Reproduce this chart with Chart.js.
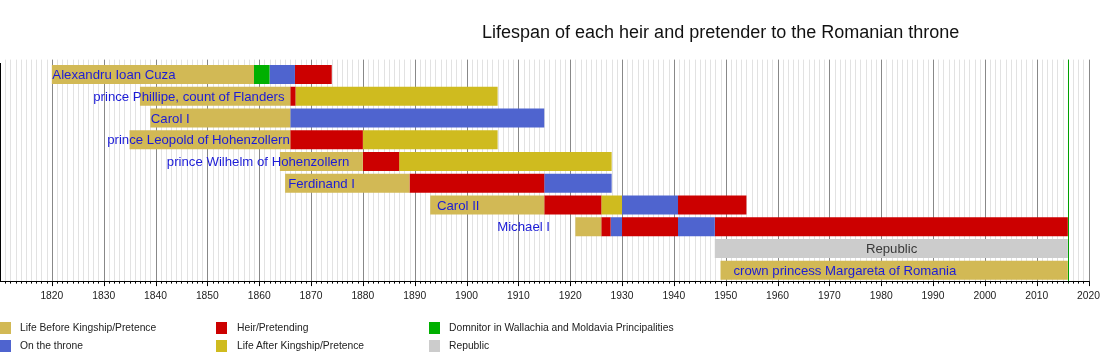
<!DOCTYPE html>
<html>
<head>
<meta charset="utf-8">
<script src="https://cdn.jsdelivr.net/npm/chart.js@4"></script>
<style>
  body { margin: 0; background: #fff; font-family: "Liberation Sans", Arial, sans-serif; }
  #wrap { position: relative; width: 1100px; height: 360px; }
  #title { position: absolute; left: 482px; top: 22px; font-size: 18px; color: #111; white-space: nowrap; }
  .key { position: absolute; height: 12px; font-size: 10.3px; color: #222; white-space: nowrap; }
  .key i { position: absolute; left: 0; top: 0; width: 11px; height: 12px; }
  .key span { position: absolute; top: 0; line-height: 12px; }
</style>
</head>
<body>
<div id="wrap">
  <canvas id="myChart" width="1100" height="360"></canvas>
  <div id="title">Lifespan of each heir and pretender to the Romanian throne</div>
</div>
<script>
const rowNames = [
    "Alexandru Ioan Cuza",
    "prince Phillipe, count of Flanders",
    "Carol I",
    "prince Leopold of Hohenzollern",
    "prince Wilhelm of Hohenzollern",
    "Ferdinand I",
    "Carol II",
    "Michael I",
    "Republic",
    "crown princess Margareta of Romania",
];

// year boundaries of each row, and what each stretch between them is
const rowYears = [
    [1820, 1859, 1862, 1866.9, 1874],
    [1837, 1866, 1867, 1906],
    [1839, 1866, 1915],
    [1835, 1866, 1880, 1906],
    [1864, 1880, 1887, 1928],
    [1865, 1889, 1915, 1928],
    [1893, 1915, 1926, 1930, 1940.8, 1954],
    [1921, 1926, 1927.8, 1930, 1940.8, 1947.9, 2016],
    [1947.9, 2016],
    [1949, 2016],
];
const rowPhases = [
    ["before", "domnitor", "throne", "heir"],
    ["before", "heir", "after"],
    ["before", "throne"],
    ["before", "heir", "after"],
    ["before", "heir", "after"],
    ["before", "heir", "throne"],
    ["before", "heir", "after", "throne", "heir"],
    ["before", "heir", "throne", "heir", "throne", "heir"],
    ["republic"],
    ["before"],
];

const phaseKeys = ["before", "throne", "heir", "after", "domnitor", "republic"];
const phaseLabels = [
    "Life Before Kingship/Pretence",
    "On the throne",
    "Heir/Pretending",
    "Life After Kingship/Pretence",
    "Domnitor in Wallachia and Moldavia Principalities",
    "Republic",
];

const nowYear = 2016;

// where each name is written (year) and how it is aligned there
const nameAt = [1820.1, 1864.9, 1839.1, 1865.9, 1877.4, 1865.6, 1894.3, 1916.1, 1982, 1951.5];
const nameAlign = ["left", "right", "left", "right", "right", "left", "left", "right", "center", "left"];

const palette = {
    before: "#d2b955",
    throne: "#4f64cf",
    heir: "#cc0000",
    after: "#cfbb1f",
    domnitor: "#00b000",
    republic: "#cccccc",
};

const FONT = '"Liberation Sans", Arial, sans-serif';

// one dataset per segment slot, rows overlap with grouped: false
const maxSeg = Math.max(...rowPhases.map((p) => p.length));
const datasets = [];
for (let k = 0; k < maxSeg; k++) {
    datasets.push({
        data: rowYears.map((ys, i) => (k < rowPhases[i].length ? [ys[k], ys[k + 1]] : null)),
        backgroundColor: rowPhases.map((p) => (k < p.length ? palette[p[k]] : "transparent")),
        grouped: false,
        barPercentage: 0.875,
        categoryPercentage: 1,
        borderWidth: 0,
        borderSkipped: false,
    });
}

const yearGrid = {
    id: "yearGrid",
    beforeDatasetsDraw(chart) {
        const { ctx, chartArea, scales } = chart;
        const x = scales.x;
        ctx.save();
        ctx.lineWidth = 1;
        for (let y = 1811; y <= 2020; y++) {
            const px = Math.round(x.getPixelForValue(y)) + 0.5;
            ctx.strokeStyle = y % 10 === 0 ? "#888888" : "#e2e2e2";
            ctx.beginPath();
            ctx.moveTo(px, chartArea.top - 4);
            ctx.lineTo(px, chartArea.bottom);
            ctx.stroke();
        }
        ctx.restore();
    },
    afterDatasetsDraw(chart) {
        const { ctx, chartArea, scales } = chart;
        const x = scales.x;
        const yS = scales.y;
        ctx.save();
        // year ticks under the axis
        ctx.strokeStyle = "#000";
        ctx.lineWidth = 1;
        for (let y = 1811; y <= 2020; y++) {
            const px = Math.round(x.getPixelForValue(y)) + 0.5;
            ctx.beginPath();
            ctx.moveTo(px, chartArea.bottom);
            ctx.lineTo(px, chartArea.bottom + (y % 10 === 0 ? 5 : 2.5));
            ctx.stroke();
        }
        // today line
        const nx = Math.round(x.getPixelForValue(nowYear)) + 0.5;
        ctx.strokeStyle = "#00a000";
        ctx.beginPath();
        ctx.moveTo(nx, chartArea.top - 4);
        ctx.lineTo(nx, chartArea.bottom);
        ctx.stroke();
        // names
        ctx.font = "13.2px " + FONT;
        ctx.textBaseline = "middle";
        rowNames.forEach((name, i) => {
            ctx.fillStyle = rowPhases[i][0] === "republic" ? "#3a3a3a" : "#1c1cd6";
            ctx.textAlign = nameAlign[i];
            ctx.fillText(name, x.getPixelForValue(nameAt[i]), yS.getPixelForValue(i) + 1);
        });
        ctx.restore();
    },
};

new Chart(document.getElementById("myChart").getContext("2d"), {
    type: "bar",
    data: { labels: rowNames, datasets: datasets },
    options: {
        responsive: false,
        animation: false,
        indexAxis: "y",
        layout: { padding: { top: 63.6, right: 10, bottom: 48, left: 0 } },
        plugins: { legend: { display: false }, tooltip: { enabled: false } },
        scales: {
            x: {
                type: "linear",
                min: 1810,
                max: 2020,
                grid: { display: false, drawTicks: false },
                border: { display: true, color: "#000" },
                ticks: {
                    stepSize: 1,
                    autoSkip: false,
                    maxRotation: 0,
                    padding: 0,
                    color: "#222",
                    font: { size: 10.3, family: FONT, lineHeight: 3.0 },
                    callback: (v) => (v % 10 === 0 && v > 1810 ? String(v) : ""),
                },
            },
            y: {
                ticks: { display: false },
                grid: { display: false, drawTicks: false },
                border: { display: true, color: "#000" },
            },
        },
    },
    plugins: [yearGrid],
});

// legend, three columns of two
const wrap = document.getElementById("wrap");
const keyCols = [0, 216, 429];
const keyTextOffset = [20, 21, 20];
const keyRows = [322, 340];
phaseKeys.forEach((k, i) => {
    const col = Math.floor(i / 2);
    const el = document.createElement("div");
    el.className = "key";
    el.style.left = keyCols[col] + "px";
    el.style.top = keyRows[i % 2] + "px";
    el.innerHTML = '<i style="background:' + palette[k] + '"></i><span style="left:' +
        keyTextOffset[col] + 'px">' + phaseLabels[i] + "</span>";
    wrap.appendChild(el);
});
</script>
</body>
</html>
